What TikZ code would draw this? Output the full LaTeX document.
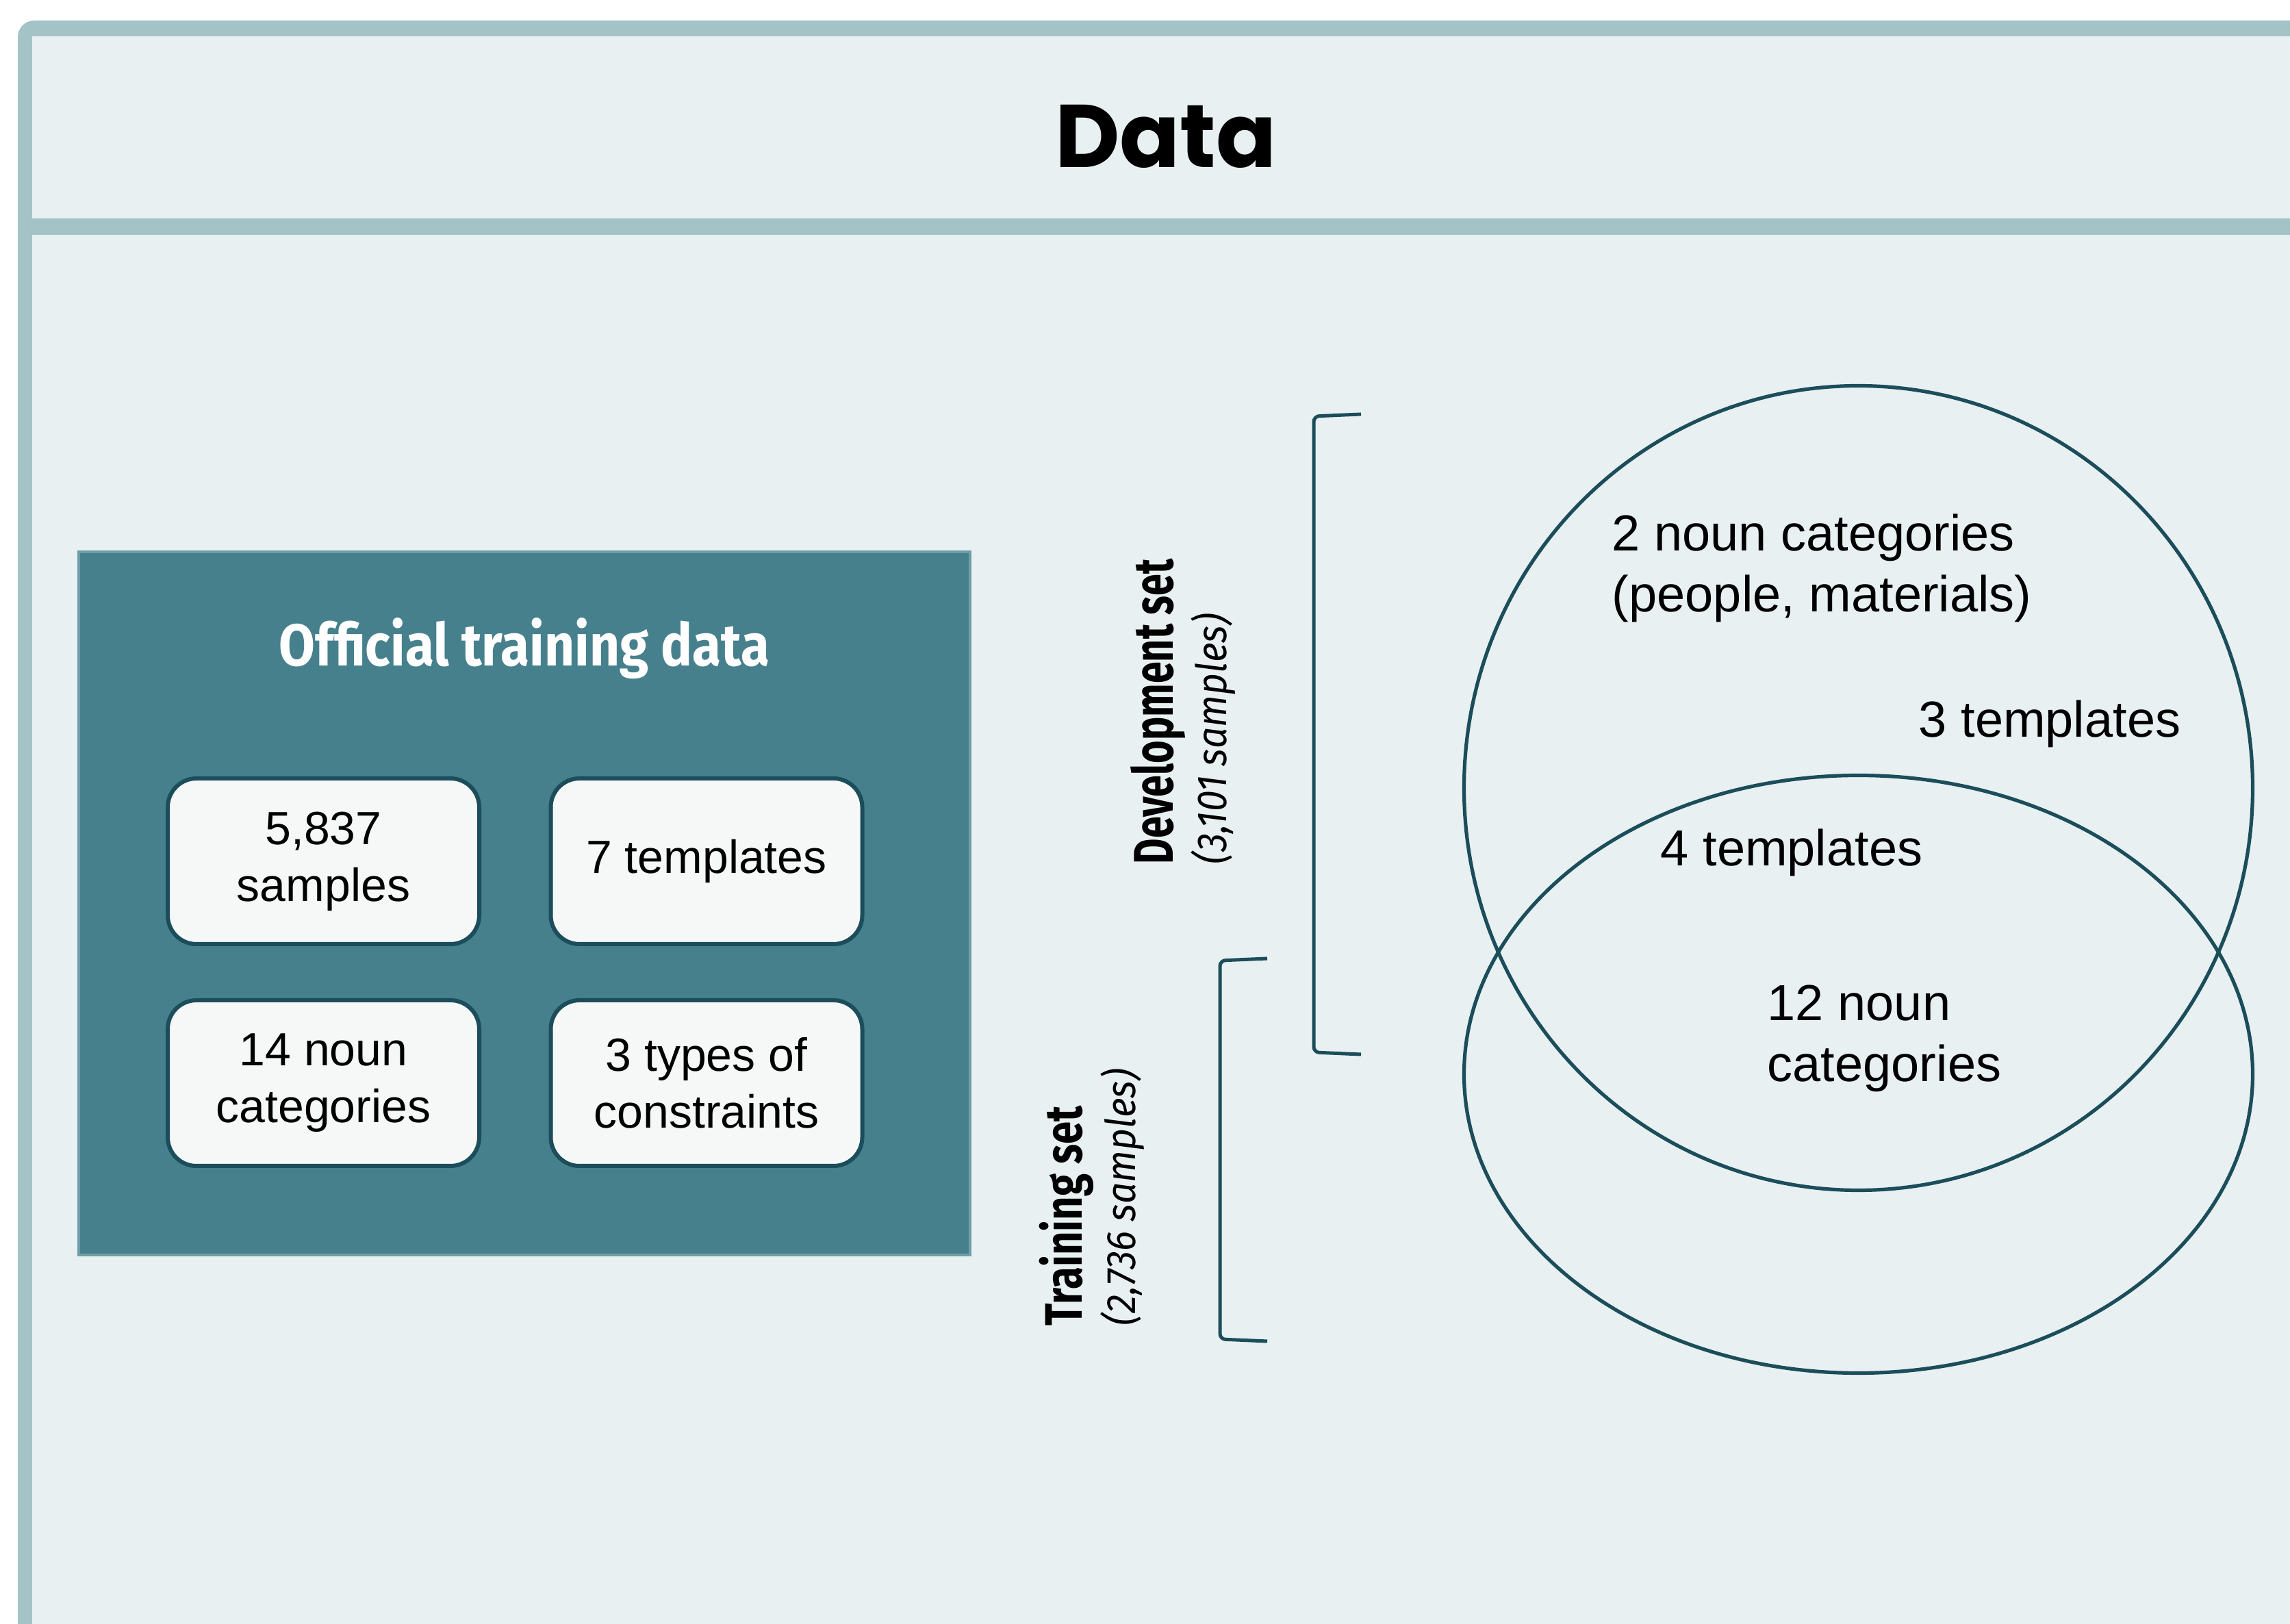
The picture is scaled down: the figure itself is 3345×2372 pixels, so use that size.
\documentclass[tikz,border=0pt]{standalone}
\usepackage{fontspec}
\usepackage{graphicx}
\setmainfont{Liberation Sans}
\newfontfamily\popfont{Poppins}
\newfontfamily\condfont{Fira Sans}
\definecolor{framec}{HTML}{A4C3C7}
\definecolor{bgc}{HTML}{E8F0F1}
\definecolor{panelc}{HTML}{47808D}
\definecolor{panelb}{HTML}{6E9EA8}
\definecolor{boxc}{HTML}{F6F8F8}
\definecolor{darkc}{HTML}{1B4D5A}
\begin{document}
\begin{tikzpicture}[x=0.25pt,y=-0.25pt,
  ibox/.style={draw=darkc, fill=boxc, line width=1.5pt, rounded corners=10.5pt,
    minimum width=113.75pt, minimum height=60.5pt, align=center, inner sep=0pt,
    font=\fontsize{17pt}{20.75pt}\selectfont},
  vtext/.style={inner sep=0pt, align=left, font=\fontsize{18.5pt}{22.25pt}\selectfont},
  rlabel/.style={rotate=90, anchor=north west, inner sep=0pt},
  bracketline/.style={draw=darkc, line width=1.25pt, rounded corners=2pt},
  vennline/.style={draw=darkc, line width=1.3pt}]
\useasboundingbox (0,0) rectangle (3345,2372);
\fill[white] (0,0) rectangle (3345,2372);
% frame
\fill[framec, rounded corners=6pt] (26,30) rectangle (3420,2450);
\fill[bgc] (47,53) rectangle (3420,2450);
\fill[framec] (47,319) rectangle (3345,343);
\node[font=\popfont\bfseries\fontsize{32.5pt}{39pt}\selectfont, anchor=base, inner sep=0pt] (title) at (1703,245) {Data};
% panel
\node[draw=panelb, fill=panelc, line width=1pt, minimum width=325.5pt, minimum height=256.75pt, inner sep=0pt] (panel) at (766,1319.5) {};
\node[anchor=base, inner sep=0pt, text=white] (ptitle) at (766,973) {\resizebox{179pt}{17.5pt}{\condfont\bfseries Official training data}};
\node[ibox] (b1) at (472.5,1258) {5,837\\samples};
\node[ibox] (b2) at (1032,1258) {7 templates};
\node[ibox] (b3) at (472.5,1582) {14 noun\\categories};
\node[ibox] (b4) at (1032,1582) {3 types of\\constraints};
% brackets
\coordinate (d1) at (1988,605);
\coordinate (d2) at (1919,608);
\coordinate (d3) at (1919,1537);
\coordinate (d4) at (1988,1540);
\draw[bracketline] (d1) -- (d2) -- (d3) -- (d4);
\coordinate (t1) at (1851,1400);
\coordinate (t2) at (1782,1403);
\coordinate (t3) at (1782,1956);
\coordinate (t4) at (1851,1959);
\draw[bracketline] (t1) -- (t2) -- (t3) -- (t4);
% rotated labels
\node[rlabel] (devlab) at (1651,1263) {\resizebox{111.5pt}{15.5pt}{\condfont\bfseries Development set}};
\node[rlabel] (devn) at (1739,1263) {\resizebox*{91.5pt}{16.25pt}{\condfont\itshape (3,101 samples)}};
\node[rlabel] (trlab) at (1517,1937) {\resizebox{80.25pt}{15.6pt}{\condfont\bfseries Training set}};
\node[rlabel] (trn) at (1607,1937) {\resizebox*{93.75pt}{16pt}{\condfont\itshape (2,736 samples)}};
% venn
\draw[vennline] (2714.5,1151) ellipse [x radius=144pt, y radius=146.875pt];
\draw[vennline] (2714.5,1569) ellipse [x radius=144pt, y radius=109.125pt];
\node[vtext, anchor=north west] (v1) at (2354,750) {2 noun categories\\(people, materials)};
\node[vtext, anchor=base west] (v2) at (2802,1077) {3 templates};
\node[vtext, anchor=base west] (v3) at (2425,1265) {4 templates};
\node[vtext, anchor=north west] (v4) at (2581,1438) {12 noun\\categories};
\end{tikzpicture}
\end{document}
